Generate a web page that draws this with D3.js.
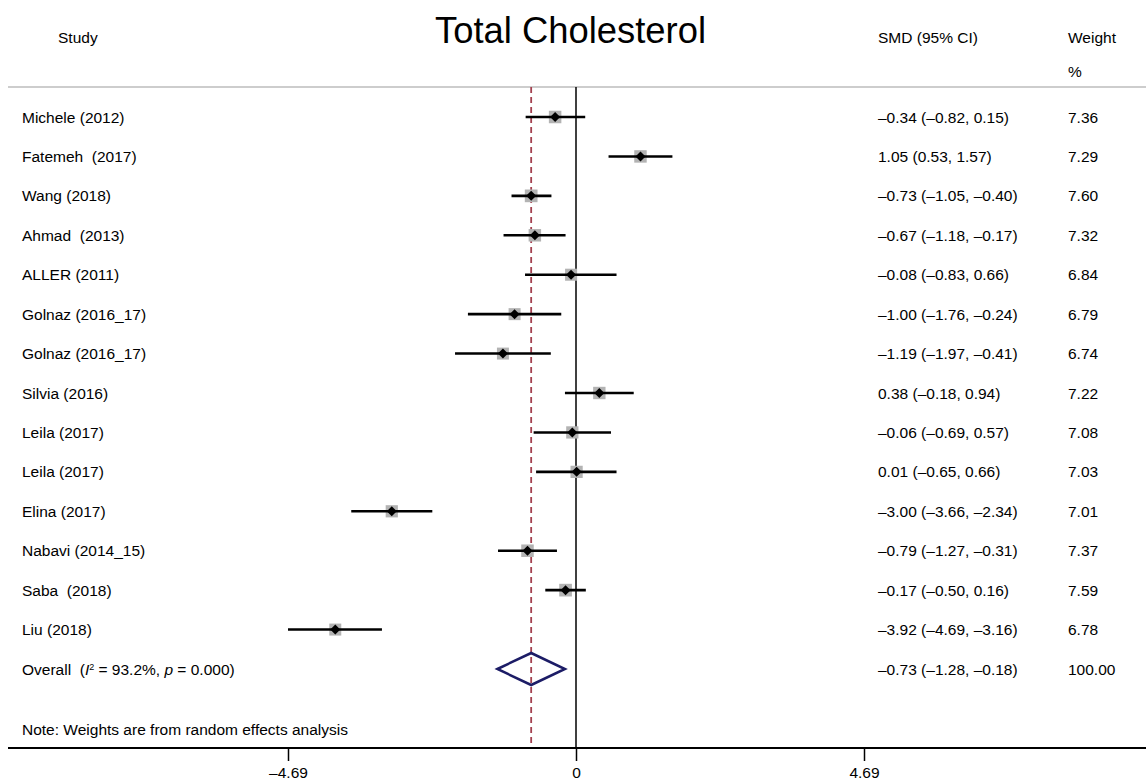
<!DOCTYPE html>
<html>
<head>
<meta charset="utf-8">
<script src="https://cdn.jsdelivr.net/npm/d3@7"></script>
<style>
  body { margin: 0; background: #fff; }
  svg text { font-family: "Liberation Sans", Arial, Helvetica, sans-serif; fill: #000; white-space: pre; }
</style>
</head>
<body>
<div id="chart"></div>
<script>
const width = 1146;
const height = 782;

const studies = [
  'Michele (2012)', 'Fatemeh  (2017)', 'Wang (2018)', 'Ahmad  (2013)', 'ALLER (2011)',
  'Golnaz (2016_17)', 'Golnaz (2016_17)', 'Silvia (2016)', 'Leila (2017)', 'Leila (2017)',
  'Elina (2017)', 'Nabavi (2014_15)', 'Saba  (2018)', 'Liu (2018)',
];
const smd = [-0.34, 1.05, -0.73, -0.67, -0.08, -1.00, -1.19, 0.38, -0.06, 0.01, -3.00, -0.79, -0.17, -3.92];
const lower = [-0.82, 0.53, -1.05, -1.18, -0.83, -1.76, -1.97, -0.18, -0.69, -0.65, -3.66, -1.27, -0.50, -4.69];
const upper = [0.15, 1.57, -0.40, -0.17, 0.66, -0.24, -0.41, 0.94, 0.57, 0.66, -2.34, -0.31, 0.16, -3.16];
const weights = ['7.36', '7.29', '7.60', '7.32', '6.84', '6.79', '6.74', '7.22', '7.08', '7.03', '7.01', '7.37', '7.59', '6.78'];

const overall = { est: -0.73, lo: -1.28, hi: -0.18, weight: '100.00' };
const tickVals = [-4.69, 0, 4.69];

const fmt = (v) => d3.format('.2f')(v).replace('-', '–').replace('−', '–');

const svg = d3.select('#chart').append('svg').attr('width', width).attr('height', height);

const x = d3.scaleLinear().domain([-4.69, 4.69]).range([288, 864]);
const y = d3.scalePoint().domain(d3.range(studies.length + 1)).range([117, 669]);
const side = d3.scaleSqrt().domain([0, 7.36]).range([0, 12.5]);

const topY = 87;
const axisY = 748;

// header
svg.append('text').attr('x', 58).attr('y', 43).style('font-size', '15.5px').text('Study');
svg.append('text').attr('x', 435).attr('y', 43).style('font-size', '36.4px').text('Total Cholesterol');
svg.append('text').attr('x', 878).attr('y', 43).style('font-size', '15.5px').text('SMD (95% CI)');
svg.append('text').attr('x', 1068).attr('y', 43).style('font-size', '15.5px').text('Weight');
svg.append('text').attr('x', 1068).attr('y', 77).style('font-size', '15.5px').text('%');

svg.append('line')
  .attr('x1', 8).attr('x2', width)
  .attr('y1', topY).attr('y2', topY)
  .attr('stroke', '#bdbdbd').attr('stroke-width', 1.5);

// reference lines
svg.append('line')
  .attr('x1', x(0)).attr('x2', x(0))
  .attr('y1', topY).attr('y2', axisY)
  .attr('stroke', '#000').attr('stroke-width', 1.5);

svg.append('line')
  .attr('x1', x(overall.est)).attr('x2', x(overall.est))
  .attr('y1', topY).attr('y2', axisY)
  .attr('stroke', '#a3414f').attr('stroke-width', 1.8)
  .attr('stroke-dasharray', '6 4');

// study rows
const rows = svg.append('g');
studies.forEach((name, i) => {
  const cy = y(i);
  rows.append('text').attr('x', 22).attr('y', cy).attr('dy', '0.36em').style('font-size', '15.5px').text(name);
  rows.append('text').attr('x', 878).attr('y', cy).attr('dy', '0.36em').style('font-size', '15.5px')
    .text(`${fmt(smd[i])} (${fmt(lower[i])}, ${fmt(upper[i])})`);
  rows.append('text').attr('x', 1068).attr('y', cy).attr('dy', '0.36em').style('font-size', '15.5px').text(weights[i]);

  const s = side(+weights[i]);
  rows.append('rect')
    .attr('x', x(smd[i]) - s / 2).attr('y', cy - s / 2)
    .attr('width', s).attr('height', s)
    .attr('fill', '#b3b3b3');
  rows.append('line')
    .attr('x1', x(lower[i])).attr('x2', x(upper[i]))
    .attr('y1', cy).attr('y2', cy)
    .attr('stroke', '#000').attr('stroke-width', 2.6);
  const cx = x(smd[i]);
  rows.append('path')
    .attr('d', `M${cx - 5},${cy} L${cx},${cy - 5} L${cx + 5},${cy} L${cx},${cy + 5} Z`)
    .attr('fill', '#000');
});

// overall row
const oy = y(studies.length);
const ot = svg.append('text').attr('x', 22).attr('y', oy).attr('dy', '0.36em').style('font-size', '15.5px');
ot.append('tspan').text('Overall  (');
ot.append('tspan').style('font-style', 'italic').text('I');
ot.append('tspan').attr('dy', '-0.55em').style('font-size', '9px').text('2');
ot.append('tspan').attr('dy', '0.32em').text(' = 93.2%, ');
ot.append('tspan').style('font-style', 'italic').text('p');
ot.append('tspan').text(' = 0.000)');

svg.append('text').attr('x', 878).attr('y', oy).attr('dy', '0.36em').style('font-size', '15.5px')
  .text(`${fmt(overall.est)} (${fmt(overall.lo)}, ${fmt(overall.hi)})`);
svg.append('text').attr('x', 1068).attr('y', oy).attr('dy', '0.36em').style('font-size', '15.5px').text(overall.weight);

svg.append('path')
  .attr('d', `M${x(overall.lo)},${oy} L${x(overall.est)},${oy - 16} L${x(overall.hi)},${oy} L${x(overall.est)},${oy + 16} Z`)
  .attr('fill', 'none')
  .attr('stroke', '#1c1c66')
  .attr('stroke-width', 2.5);

svg.append('text').attr('x', 22).attr('y', 729).attr('dy', '0.36em').style('font-size', '15.5px')
  .text('Note: Weights are from random effects analysis');

// x axis
const axis = svg.append('g')
  .attr('transform', `translate(0, ${axisY})`)
  .call(d3.axisBottom(x).tickValues(tickVals).tickSize(13).tickPadding(6).tickFormat((d) => (d === 0 ? '0' : fmt(d))));
axis.select('.domain').remove();
axis.selectAll('.tick line').attr('stroke', '#000').attr('stroke-width', 1.5);
axis.selectAll('.tick text').style('font-size', '15.5px').style('font-family', '"Liberation Sans", Arial, sans-serif');

svg.append('line')
  .attr('x1', 8).attr('x2', width)
  .attr('y1', axisY).attr('y2', axisY)
  .attr('stroke', '#000').attr('stroke-width', 2);
</script>
</body>
</html>
